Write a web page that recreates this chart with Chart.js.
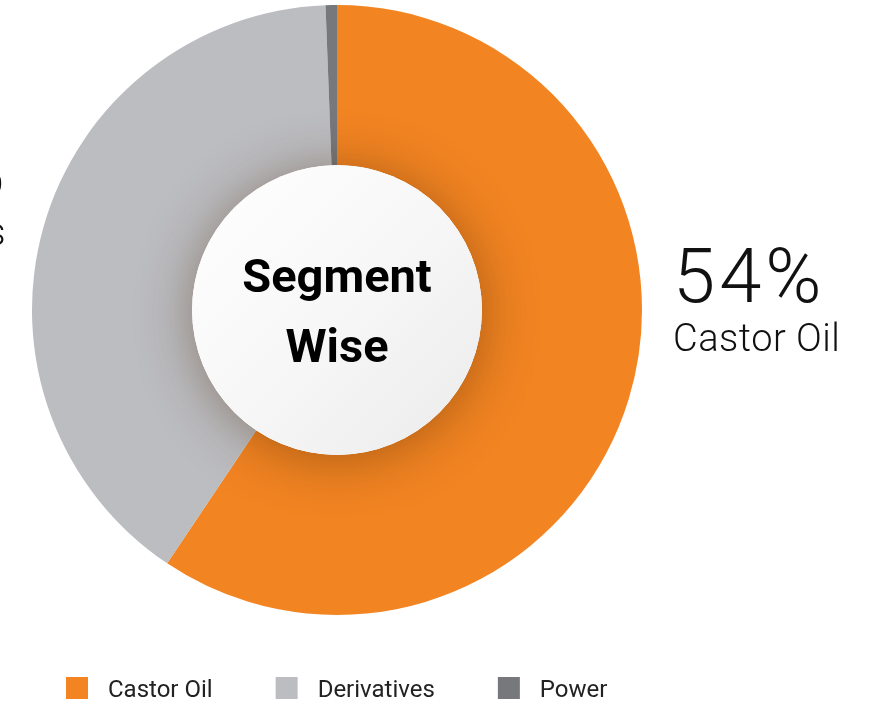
<!DOCTYPE html>
<html>
<head>
<meta charset="utf-8">
<script src="https://cdn.jsdelivr.net/npm/chart.js@4.4.1/dist/chart.umd.min.js"></script>
<style>
  html, body { margin: 0; padding: 0; background: #ffffff; }
  #wrap { width: 871px; height: 706px; position: relative; }
</style>
</head>
<body>
<div id="wrap"><canvas id="c" width="871" height="706"></canvas></div>
<script>
// ---- data ----
const categories = ["Castor Oil", "Derivatives", "Power"];
const shares = [59.4, 40.0, 0.6];           // slice sizes as drawn
const shareLabels = ["54%", "45%", "1%"];   // printed percentages
const colors = ["#F28422", "#BCBDC1", "#77787B"];
const centerTitle = ["Segment", "Wise"];

const FONT = "Roboto, 'Noto Sans', sans-serif";

const decor = {
  id: 'decor',
  afterDatasetsDraw(chart) {
    const ctx = chart.ctx;
    const arc = chart.getDatasetMeta(0).data[0];
    const cx = arc.x, cy = arc.y, ri = arc.innerRadius, ro = arc.outerRadius;

    // soft shadow of the centre disc on the ring
    ctx.save();
    ctx.beginPath();
    ctx.arc(cx, cy, ro, 0, Math.PI * 2);
    ctx.clip();
    ctx.shadowColor = 'rgba(70,35,0,0.42)';
    ctx.shadowBlur = 55;
    ctx.shadowOffsetY = 4;
    ctx.beginPath();
    ctx.arc(cx, cy, ri, 0, Math.PI * 2);
    ctx.fillStyle = '#ffffff';
    ctx.fill();
    ctx.restore();

    // centre disc
    ctx.save();
    const g = ctx.createLinearGradient(cx - ri, cy - ri, cx + ri, cy + ri);
    g.addColorStop(0, '#ffffff');
    g.addColorStop(0.5, '#f7f7f7');
    g.addColorStop(1, '#ebebeb');
    ctx.beginPath();
    ctx.arc(cx, cy, ri, 0, Math.PI * 2);
    ctx.fillStyle = g;
    ctx.fill();

    ctx.fillStyle = '#000000';
    ctx.textAlign = 'center';
    ctx.textBaseline = 'alphabetic';
    ctx.font = "700 47px " + FONT;
    ctx.fillText(centerTitle[0], cx, cy - 18);
    ctx.fillText(centerTitle[1], cx, cy + 52);
    ctx.restore();

    // right label (Castor Oil)
    ctx.save();
    ctx.fillStyle = '#111111';
    ctx.textAlign = 'left';
    ctx.textBaseline = 'alphabetic';
    const rx = cx + ro + 31;
    ctx.letterSpacing = '4px';
    ctx.font = "300 76px " + FONT;
    ctx.fillText(shareLabels[0], rx, cy - 8);
    ctx.letterSpacing = '0.5px';
    ctx.font = "300 38px " + FONT;
    ctx.fillText(categories[0], rx, cy + 41);

    // left label (Derivatives), clipped by the page edge
    ctx.textAlign = 'right';
    ctx.letterSpacing = '4px';
    ctx.font = "300 76px " + FONT;
    ctx.fillText(shareLabels[1], 9, cy - 115);
    ctx.letterSpacing = '0.5px';
    ctx.font = "300 38px " + FONT;
    ctx.fillText(categories[1], 6, cy - 65);
    ctx.restore();

    // legend
    ctx.save();
    ctx.font = "400 24px " + FONT;
    ctx.textAlign = 'left';
    ctx.textBaseline = 'alphabetic';
    let x = 66;
    const by = 677, bs = 22;
    categories.forEach((name, i) => {
      ctx.fillStyle = colors[i];
      ctx.fillRect(x, by, bs, bs);
      x += bs + 20;
      ctx.fillStyle = '#222222';
      ctx.fillText(name, x, by + 20);
      x += ctx.measureText(name).width + 63;
    });
    ctx.restore();
  }
};

new Chart(document.getElementById('c'), {
  type: 'doughnut',
  data: {
    labels: categories,
    datasets: [{
      data: shares,
      backgroundColor: colors,
      borderWidth: 0,
      hoverOffset: 0
    }]
  },
  options: {
    responsive: false,
    animation: false,
    cutout: '47.5%',
    rotation: 0,
    layout: { padding: { left: 32, right: 229, top: 5, bottom: 91 } },
    plugins: {
      legend: { display: false },
      tooltip: { enabled: false }
    }
  },
  plugins: [decor]
});
</script>
</body>
</html>
